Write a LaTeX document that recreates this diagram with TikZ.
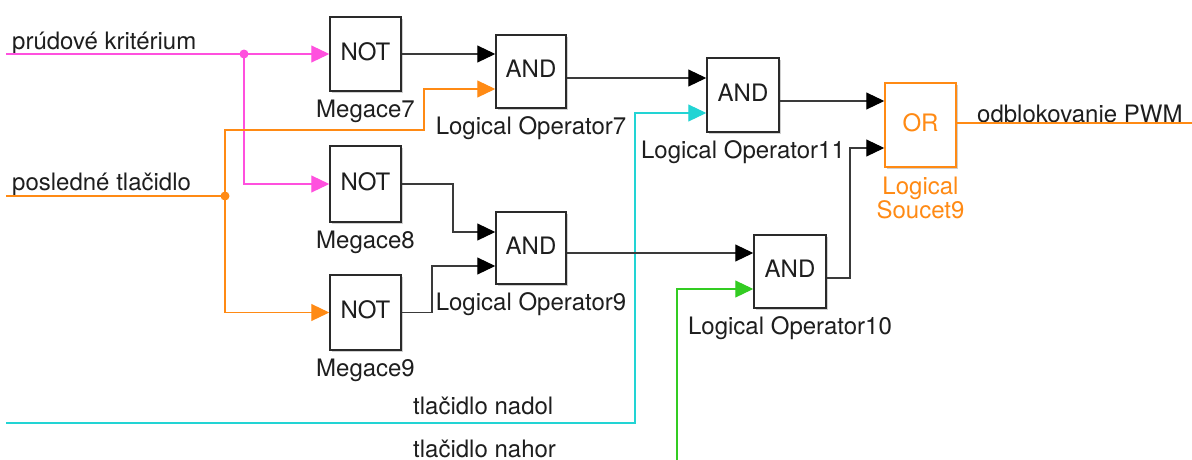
\documentclass[tikz,border=0pt]{standalone}
\usepackage{fontspec}
\setmainfont{TeX Gyre Heros}
\usetikzlibrary{arrows.meta,shadows,calc}
\definecolor{ink}{HTML}{1E1E1E}
\definecolor{wire}{HTML}{3A3A3A}
\definecolor{boxline}{HTML}{2A2A2A}
\definecolor{pinkline}{HTML}{FF50DE}
\definecolor{orng}{HTML}{FF8A14}
\definecolor{cyanline}{HTML}{22D4D4}
\definecolor{greenline}{HTML}{33CC22}
\newcommand\blkfont{\fontsize{24}{26}\selectfont}
\begin{document}
\begin{tikzpicture}[x=1pt,y=-1pt,
  blk/.style={draw=boxline, line width=1.5pt, fill=white, minimum width=71pt,
    minimum height=74pt, inner sep=0pt, font=\blkfont, text=ink, text depth=5pt,
    drop shadow={shadow xshift=1.5pt, shadow yshift=-1.5pt, fill=black!30, opacity=0.6}},
  lbl/.style={anchor=base, inner sep=0pt, font=\blkfont, text=ink},
  txt/.style={anchor=base west, inner sep=0pt, font=\blkfont, text=ink},
  tip/.style={-{Triangle[length=18pt,width=17pt]}},
  tipk/.style={-{Triangle[length=18pt,width=17pt,color=black]}},
  sig/.style={draw=wire, line width=1.1pt, tipk},
  pk/.style={draw=pinkline, line width=1.1pt},
  orw/.style={draw=orng, line width=1.1pt},
  cy/.style={draw=cyanline, line width=1.1pt},
  gr/.style={draw=greenline, line width=1.1pt},
  dot/.style={circle, inner sep=0pt, minimum size=9pt}]

\fill[white] (0,0) rectangle (1192,459);
\useasboundingbox (0,0) rectangle (1192,459);

% logic blocks
\node[blk] (m7) at (365.5,54) {NOT};
\node[blk, minimum height=76pt] (m8) at (365.5,184) {NOT};
\node[blk, minimum height=75pt] (m9) at (365.5,312.5) {NOT};
\node[blk, minimum width=70pt, minimum height=73pt] (a7) at (531,71.5) {AND};
\node[blk, minimum width=70pt, minimum height=72pt] (a9) at (531,248) {AND};
\node[blk, minimum width=72pt] (a11) at (743,95) {AND};
\node[blk, minimum width=72pt, minimum height=73pt] (a10) at (790,271.5) {AND};
\node[blk, draw=orng, text=orng, minimum height=84pt] (or) at (920.5,125) {OR};

% block names
\node[lbl] (m7l) at ([yshift=-25.5pt]m7.south) {Megace7};
\node[lbl] (m8l) at ([yshift=-25.5pt]m8.south) {Megace8};
\node[lbl] (m9l) at ([yshift=-25.5pt]m9.south) {Megace9};
\node[lbl] (a7l) at ([yshift=-25.5pt]a7.south) {Logical Operator7};
\node[lbl] (a9l) at ([yshift=-25.5pt]a9.south) {Logical Operator9};
\node[lbl] (a11l) at ([yshift=-25.5pt]a11.south) {Logical Operator11};
\node[lbl] (a10l) at ([yshift=-25.5pt]a10.south) {Logical Operator10};
\node[lbl, anchor=north, align=center, text=orng, font=\fontsize{24}{22}\selectfont]
  (orl) at ([yshift=-9pt]or.south) {Logical\\Soucet9};

% signal names
\node[txt] (t1) at (12,49) {prúdové kritérium};
\node[txt] (t2) at (12,190) {posledné tlačidlo};
\node[txt] (t3) at (413,414) {tlačidlo nadol};
\node[txt] (t4) at (413,457) {tlačidlo nahor};
\node[txt] (t5) at (977,122) {odblokovanie PWM};

% port and bend points
\coordinate (pkS) at (6,54);
\coordinate (pkJ) at (244,54);
\coordinate (orS) at (6,196);
\coordinate (orJ) at (225,196);
\coordinate (orK) at (424,130);
\coordinate (a7i2) at (a7.west |- 0,89);
\coordinate (a7o) at (a7.east |- 0,78);
\coordinate (k8) at (453,184);
\coordinate (a9i1) at (a9.west |- 0,232);
\coordinate (k9) at (432,312.5);
\coordinate (a9i2) at (a9.west |- 0,266);
\coordinate (a9o) at (a9.east |- 0,253);
\coordinate (cyS) at (6,423);
\coordinate (cyK) at (635,423);
\coordinate (a11i2) at (a11.west |- 0,113);
\coordinate (grS) at (677,462);
\coordinate (a10i2) at (a10.west |- 0,289);
\coordinate (a11o) at (a11.east |- 0,101);
\coordinate (a10o) at (a10.east |- 0,278);
\coordinate (k10) at (850,278);
\coordinate (ori2) at (or.west |- 0,148);
\coordinate (outE) at (1192,123);
\coordinate (oro) at (or.east |- outE);

% prúdové kritérium
\draw[pk, tip] (pkS) -- (m7.west);
\draw[pk, tip] (pkJ) |- (m8.west);
\node[dot, fill=pinkline] (pkD) at (pkJ) {};

% posledné tlačidlo
\draw[orw] (orS) -- (orJ);
\draw[orw, tip] (orJ) |- (orK) |- (a7i2);
\draw[orw, tip] (orJ) |- (m9.west);
\node[dot, fill=orng] (orD) at (orJ) {};

% tlačidlo nadol / nahor
\draw[cy, tip] (cyS) -- (cyK) |- (a11i2);
\draw[gr, tip] (grS) |- (a10i2);

% internal signals
\draw[sig] (m7.east) -- (m7.east -| a7.west);
\draw[sig] (a7o) -- (a7o -| a11.west);
\draw[sig] (m8.east) -- (k8) |- (a9i1);
\draw[sig] (m9.east) -- (k9) |- (a9i2);
\draw[sig] (a9o) -- (a9o -| a10.west);
\draw[sig] (a11o) -- (a11o -| or.west);
\draw[sig] (a10o) -- (k10) |- (ori2);

% output
\draw[orw] (oro) -- (outE);
\end{tikzpicture}
\end{document}
